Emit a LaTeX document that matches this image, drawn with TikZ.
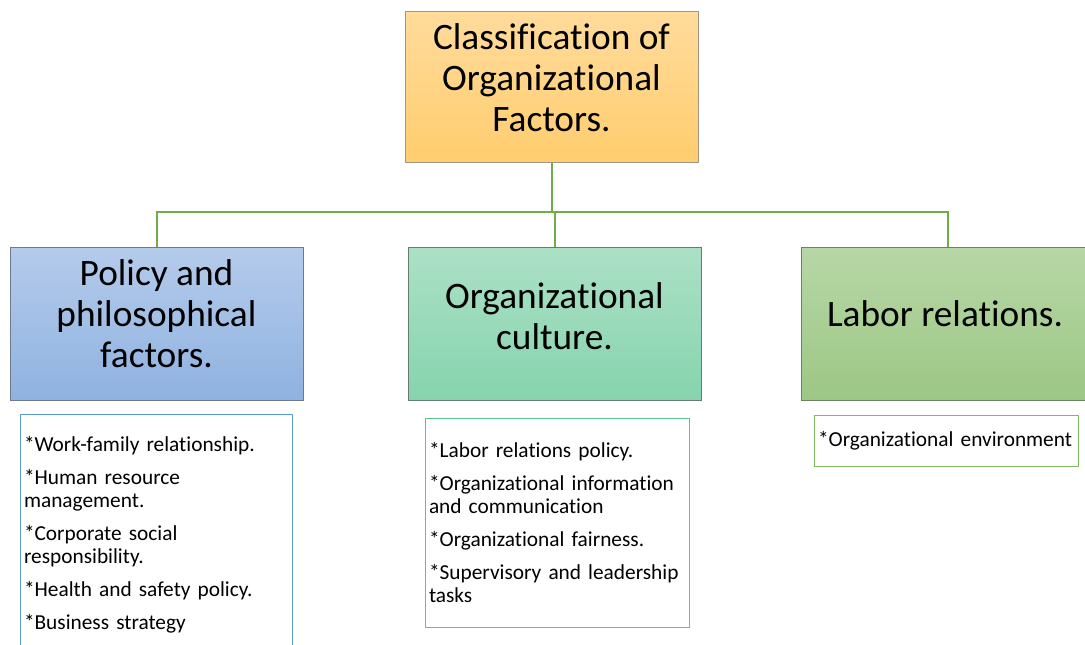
\documentclass[tikz,border=0pt]{standalone}
\usepackage{fontspec}
\setmainfont{Carlito}[Ligatures=NoCommon]
\definecolor{busgreen}{RGB}{112,173,71}
\definecolor{clstop}{RGB}{255,219,155}
\definecolor{clsbot}{RGB}{255,205,110}
\definecolor{clsline}{RGB}{160,150,130}
\definecolor{poltop}{RGB}{180,203,235}
\definecolor{polbot}{RGB}{143,178,224}
\definecolor{polline}{RGB}{110,122,140}
\definecolor{cultop}{RGB}{172,224,198}
\definecolor{culbot}{RGB}{134,212,174}
\definecolor{culline}{RGB}{100,125,112}
\definecolor{labtop}{RGB}{183,215,166}
\definecolor{labbot}{RGB}{156,199,132}
\definecolor{labline}{RGB}{105,130,95}
\definecolor{polframe}{RGB}{91,155,213}
\definecolor{culframe}{RGB}{90,200,140}
\definecolor{labframe}{RGB}{125,190,90}
\tikzset{
  headbox/.style={draw, line width=.75pt, minimum width=219.75pt, minimum height=114pt, inner sep=0pt},
  headtext/.style={align=center, inner sep=0pt, font=\fontsize{28pt}{30.75pt}\selectfont},
  listbox/.style={draw, line width=.75pt, inner xsep=3pt, inner ysep=0pt, align=left,
    font=\fontsize{16pt}{17.25pt}\selectfont},
  conn/.style={draw=busgreen, line width=1.5pt}
}

\begin{document}
\begin{tikzpicture}[x=0.75pt,y=-0.75pt]
  \clip (0,0) rectangle (1085,645);
  \fill[white] (0,0) rectangle (1085,645);

  % top box
  \node[headbox, draw=clsline, top color=clstop, bottom color=clsbot, minimum height=113.25pt] (cls) at (551.5,87.5) {};
  \node[headtext] (clstext) at (551.5,78) {Classification of\\Organizational\\Factors.};

  % second row
  \node[headbox, draw=polline, top color=poltop, bottom color=polbot] (policy) at (156.5,324) {};
  \node[headtext] (policytext) at (156.5,314) {Policy and\\philosophical\\factors.};
  \node[headbox, draw=culline, top color=cultop, bottom color=culbot] (culture) at (554.5,324) {};
  \node[headtext] (culturetext) at (554.5,316) {Organizational\\culture.};
  \node[headbox, draw=labline, top color=labtop, bottom color=labbot] (labor) at (947.5,324) {};
  \node[headtext] (labortext) at (945,314) {Labor relations.};

  \coordinate (bus) at (551.5,212);
  \draw[conn] (cls) -- (bus);
  \draw[conn] (bus) -| (policy);
  \draw[conn] (bus) -| (culture);
  \draw[conn] (bus) -| (labor);

  % lists
  \node[listbox, draw=polframe, minimum width=204pt, text width=198pt, minimum height=180.75pt] (policylist) at (156,534.5)
    {*Work-family relationship.\\[7.5pt]*Human resource\\management.\\[7.5pt]*Corporate social\\responsibility.\\[7.5pt]*Health and safety policy.\\[7.5pt]*Business strategy};
  \node[listbox, draw=culframe, minimum width=198pt, text width=192pt, minimum height=156.75pt] (culturelist) at (557,522.5)
    {*Labor relations policy.\\[7.5pt]*Organizational information\\and communication\\[7.5pt]*Organizational fairness.\\[7.5pt]*Supervisory and leadership\\tasks};
  \node[listbox, draw=labframe, minimum width=198pt, text width=192pt, minimum height=38.25pt] (laborlist) at (946,440.5)
    {*Organizational environment};
\end{tikzpicture}
\end{document}
